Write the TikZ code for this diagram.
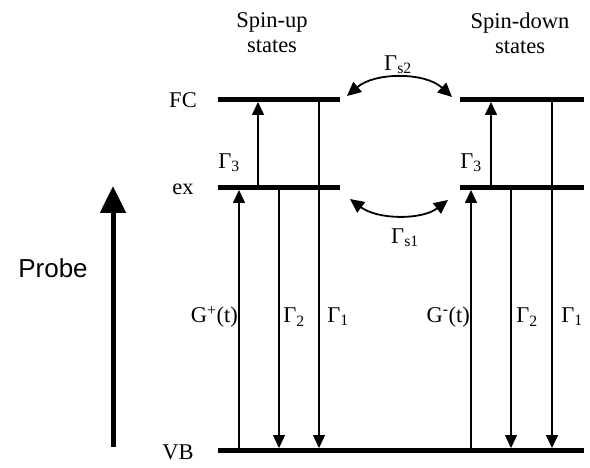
\documentclass[tikz,border=0pt]{standalone}
\usepackage{fontspec}
\setmainfont{Liberation Serif}
\newfontfamily\probefont{Liberation Sans}
\usetikzlibrary{arrows.meta}
\begin{document}
\begin{tikzpicture}[x=1pt,y=-1pt,
  lbl/.style={inner sep=0pt,font=\fontsize{22.5}{25}\selectfont},
  bar/.style={line width=5pt},
  trans/.style={line width=1.6pt,-{Triangle[length=13pt,width=12pt]}},
  swap/.style={line width=1.8pt,{Triangle[length=14pt,width=13pt]}-{Triangle[length=14pt,width=13pt]}}]
\useasboundingbox (0,0) rectangle (590,468);
% levels
\coordinate (LFCa) at (218,100); \coordinate (LFCb) at (340,100);
\coordinate (RFCa) at (460,100); \coordinate (RFCb) at (584,100);
\coordinate (LEXa) at (218,188); \coordinate (LEXb) at (340,188);
\coordinate (REXa) at (460,188); \coordinate (REXb) at (584,188);
\coordinate (VBa) at (218,450); \coordinate (VBb) at (584,450);
\draw[bar] (LFCa) -- (LFCb);
\draw[bar] (RFCa) -- (RFCb);
\draw[bar] (LEXa) -- (LEXb);
\draw[bar] (REXa) -- (REXb);
\draw[bar] (VBa) -- (VBb);
% labels of levels
\node[lbl] (fc) at (183,100) {FC};
\node[lbl] (ex) at (183,189) {ex};
\node[lbl] (vb) at (178,452) {VB};
\node[lbl,align=center] (up) at (272,33) {Spin-up\\states};
\node[lbl,align=center] (down) at (520,33) {Spin-down\\states};
% transition end points
\foreach \n/\x in {Lg/239,Lt/258,Ls/279,Lo/319,Rg/471,Rt/491,Rs/511,Ro/552}{
  \coordinate (\n fc) at (\x,102);
  \coordinate (\n ex) at (\x,190);
  \coordinate (\n vb) at (\x,448);
}
\draw[trans] (Lgvb) -- (Lgex);
\draw[trans] (Ltex) -- (Ltfc);
\draw[trans] (Lsex) -- (Lsvb);
\draw[trans] (Lofc) -- (Lovb);
\draw[trans] (Rgvb) -- (Rgex);
\draw[trans] (Rtex) -- (Rtfc);
\draw[trans] (Rsex) -- (Rsvb);
\draw[trans] (Rofc) -- (Rovb);
% transition labels
\node[lbl] (g3l) at (229,163) {Γ\textsubscript{3}};
\node[lbl] (g3r) at (471,163) {Γ\textsubscript{3}};
\node[lbl,anchor=east] (gp) at (238,317) {G\textsuperscript{+}(t)};
\node[lbl] (g2l) at (294,317) {Γ\textsubscript{2}};
\node[lbl] (g1l) at (338,317) {Γ\textsubscript{1}};
\node[lbl,anchor=east] (gm) at (470,317) {G\textsuperscript{-}(t)};
\node[lbl] (g2r) at (527,317) {Γ\textsubscript{2}};
\node[lbl] (g1r) at (572,317) {Γ\textsubscript{1}};
% spin flips
\coordinate (s2a) at (347,96); \coordinate (s2b) at (452,97);
\coordinate (s1a) at (350,199); \coordinate (s1b) at (448,200);
\draw[swap] (s2a) .. controls (375,72) and (425,72) .. (s2b);
\draw[swap] (s1a) .. controls (378,220) and (422,220) .. (s1b);
\node[lbl] (gs2) at (398,65) {Γ\textsubscript{s2}};
\node[lbl] (gs1) at (405,238) {Γ\textsubscript{s1}};
% probe
\coordinate (pa) at (113,447); \coordinate (pb) at (113,186);
\draw[line width=5pt,-{Triangle[length=27pt,width=25pt]}] (pa) -- (pb);
\node[inner sep=0pt,font=\probefont\fontsize{26}{28}\selectfont] (probe) at (53,268) {Probe};
\end{tikzpicture}
\end{document}
